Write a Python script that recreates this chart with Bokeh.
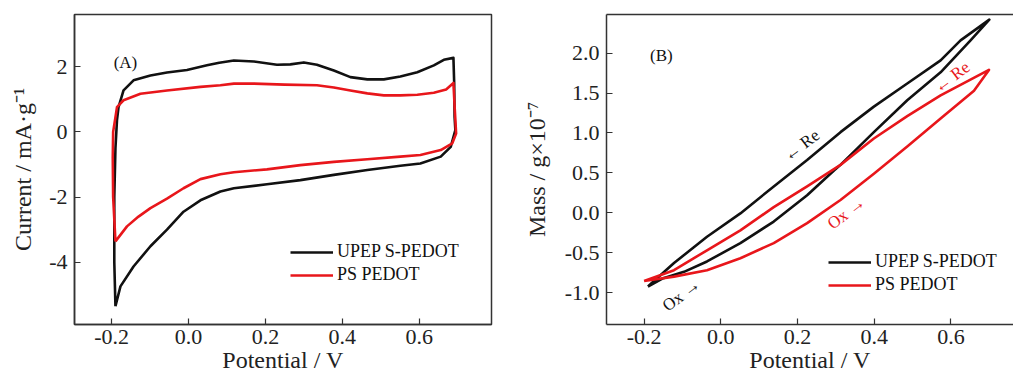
from bokeh.plotting import figure
from bokeh.layouts import row
from bokeh.models import (Range1d, FixedTicker, NumeralTickFormatter, Legend,
                          LegendItem, LinearAxis)
from bokeh.core.properties import value
from bokeh.embed import file_html
from bokeh.resources import INLINE
import math

FONT = "'Liberation Serif', 'Times New Roman', serif"
BLACK = "#111111"
RED = "#e8161b"
AXIS = "#333333"

# ---------------- Panel A: cyclic voltammograms ----------------
a_black_v = [-0.190, -0.193, -0.193, -0.190, -0.186, -0.182, -0.169, -0.143, -0.099, -0.056,
             -0.004, 0.048, 0.080, 0.118, 0.170, 0.230, 0.265, 0.300, 0.334, 0.378,
             0.421, 0.465, 0.508, 0.551, 0.595, 0.638, 0.664, 0.689, 0.691, 0.692,
             0.694, 0.682, 0.656, 0.603, 0.551, 0.465, 0.378, 0.291, 0.204, 0.118,
             0.083, 0.031, -0.013, -0.056, -0.099, -0.143, -0.177, -0.190]
a_black_i = [-5.35, -4.0, -2.0, -0.5, 0.36, 0.76, 1.27, 1.58, 1.73, 1.82,
             1.90, 2.04, 2.12, 2.19, 2.16, 2.06, 2.07, 2.13, 2.06, 1.88,
             1.68, 1.61, 1.61, 1.70, 1.83, 2.04, 2.21, 2.27, 1.48, 0.46,
             0.05, -0.46, -0.76, -0.97, -1.04, -1.17, -1.32, -1.48, -1.61, -1.73,
             -1.83, -2.10, -2.45, -3.00, -3.51, -4.13, -4.74, -5.35]

a_red_v = [-0.190, -0.196, -0.197, -0.196, -0.190, -0.186, -0.169, -0.125, -0.056, 0.031,
           0.083, 0.118, 0.170, 0.250, 0.334, 0.378, 0.421, 0.465, 0.508, 0.551,
           0.595, 0.638, 0.670, 0.689, 0.692, 0.696, 0.686, 0.656, 0.603, 0.551,
           0.465, 0.378, 0.291, 0.204, 0.118, 0.083, 0.031, -0.013, -0.056, -0.099,
           -0.130, -0.160, -0.190]
a_red_i = [-3.36, -2.0, -0.8, 0.0, 0.45, 0.76, 0.97, 1.17, 1.27, 1.38,
           1.43, 1.48, 1.48, 1.45, 1.43, 1.36, 1.27, 1.18, 1.12, 1.12,
           1.14, 1.20, 1.30, 1.50, 0.80, -0.05, -0.35, -0.56, -0.71, -0.76,
           -0.84, -0.92, -1.02, -1.15, -1.24, -1.30, -1.45, -1.73, -2.05, -2.34,
           -2.60, -2.90, -3.36]

# ---------------- Panel B: mass change ----------------
b_black_v = [-0.190, -0.150, -0.096, -0.036, 0.051, 0.138, 0.225, 0.295, 0.312, 0.399,
             0.486, 0.573, 0.651, 0.700, 0.625, 0.573, 0.486, 0.399, 0.312, 0.225,
             0.138, 0.051, -0.036, -0.122, -0.190]
b_black_m = [-0.925, -0.82, -0.74, -0.61, -0.38, -0.11, 0.22, 0.53, 0.60, 1.01,
             1.41, 1.76, 2.16, 2.42, 2.16, 1.91, 1.62, 1.33, 1.01, 0.66,
             0.33, -0.008, -0.30, -0.63, -0.925]

b_red_v = [-0.200, -0.122, -0.036, 0.051, 0.138, 0.225, 0.312, 0.399, 0.486, 0.573,
           0.660, 0.699, 0.573, 0.486, 0.399, 0.312, 0.225, 0.138, 0.051, -0.036,
           -0.122, -0.200]
b_red_m = [-0.854, -0.80, -0.72, -0.57, -0.38, -0.13, 0.16, 0.49, 0.83, 1.18,
           1.53, 1.79, 1.47, 1.21, 0.93, 0.60, 0.33, 0.07, -0.22, -0.47,
           -0.72, -0.854]

series_names = ["UPEP S-PEDOT", "PS PEDOT"]

x_ticks = [-0.2, 0.0, 0.2, 0.4, 0.6]
a_y_ticks = [-4, -2, 0, 2]
b_y_ticks = [-1.0, -0.5, 0.0, 0.5, 1.0, 1.5, 2.0]

# panel B annotations
b_ann_text = ["\u2190 Re", "\u2190 Re", "Ox \u2192", "Ox \u2192"]
b_ann_x = [0.210, 0.602, 0.327, -0.103]
b_ann_y = [0.846, 1.70, -0.004, -1.03]
b_ann_color = [BLACK, RED, RED, BLACK]


def style(p, yticks, yfmt, ylabel, y_std):
    p.xaxis.ticker = FixedTicker(ticks=x_ticks)
    p.xaxis.formatter = NumeralTickFormatter(format="0.0")
    p.yaxis.ticker = FixedTicker(ticks=yticks)
    p.yaxis.formatter = NumeralTickFormatter(format=yfmt)
    p.xaxis.axis_label = "Potential / V"
    p.yaxis.axis_label = ylabel
    for ax in (p.xaxis, p.yaxis):
        ax.axis_line_color = AXIS
        ax.axis_line_width = 1.5
        ax.major_tick_line_color = AXIS
        ax.major_tick_line_width = 1.2
        ax.major_tick_in = 6
        ax.major_tick_out = 0
        ax.minor_tick_line_color = None
        ax.major_label_text_font = FONT
        ax.major_label_text_font_size = "22px"
        ax.major_label_text_color = "#222222"
        ax.axis_label_text_font = FONT
        ax.axis_label_text_font_size = "24px"
        ax.axis_label_text_font_style = "normal"
        ax.axis_label_text_color = "#222222"
    p.xaxis.major_label_standoff = 5
    p.xaxis.axis_label_standoff = 0
    p.yaxis.major_label_standoff = 7
    p.yaxis.axis_label_standoff = y_std
    p.grid.visible = False
    p.background_fill_color = "white"
    p.border_fill_color = "white"


H = 375

# ---------- figure A ----------
pa = figure(width=500, height=H, output_backend="svg", toolbar_location=None,
            x_range=Range1d(-0.2965, 0.788), y_range=Range1d(-5.91, 3.60),
            min_border_left=74, min_border_right=9, min_border_top=14, min_border_bottom=50)
style(pa, a_y_ticks, "0", "Current / mA\u00b7g\u207b\u00b9", 10)
pa.outline_line_color = AXIS
pa.outline_line_width = 1.5
ra1 = pa.line(a_black_v, a_black_i, line_color=BLACK, line_width=2.6, line_join="round")
ra2 = pa.line(a_red_v, a_red_i, line_color=RED, line_width=2.6, line_join="round")
pa.text(x=[-0.164], y=[2.13], text=["(A)"], text_font=value(FONT), text_font_size="17px",
        text_color=BLACK, text_align="center", text_baseline="middle")
leg_a = Legend(items=[LegendItem(label=series_names[0], renderers=[ra1]),
                      LegendItem(label=series_names[1], renderers=[ra2])],
               location=(216, 39), padding=0, margin=0, spacing=2,
               glyph_width=43, glyph_height=20, label_height=20, label_standoff=4,
               label_text_font=FONT, label_text_font_size="18px", label_text_color=BLACK,
               border_line_color=None, background_fill_alpha=0)
pa.add_layout(leg_a)

# ---------- figure B ----------
pb = figure(width=513, height=H, output_backend="svg", toolbar_location=None,
            x_range=Range1d(-0.298, 0.763), y_range=Range1d(-1.40, 2.484),
            min_border_left=106, min_border_right=0, min_border_top=14, min_border_bottom=50)
style(pb, b_y_ticks, "0.0", "Mass / g\u00d710\u207b\u2077", 12)
pb.outline_line_color = None
top_axis = LinearAxis(ticker=FixedTicker(ticks=[]), major_label_text_font_size="0px",
                      major_tick_line_color=None, minor_tick_line_color=None,
                      axis_line_color=AXIS, axis_line_width=1.5, major_label_standoff=0)
pb.add_layout(top_axis, "above")
rb1 = pb.line(b_black_v, b_black_m, line_color=BLACK, line_width=2.6, line_join="round")
rb2 = pb.line(b_red_v, b_red_m, line_color=RED, line_width=2.6, line_join="round")
pb.text(x=[-0.155], y=[1.97], text=["(B)"], text_font=value(FONT), text_font_size="17px",
        text_color=BLACK, text_align="center", text_baseline="middle")
pb.text(x=b_ann_x, y=b_ann_y, text=b_ann_text, text_font=value(FONT), text_font_size="17px",
        text_color=b_ann_color, angle=math.radians(37), text_align="center",
        text_baseline="middle")
leg_b = Legend(items=[LegendItem(label=series_names[0], renderers=[rb1]),
                      LegendItem(label=series_names[1], renderers=[rb2])],
               location=(222, 29), padding=0, margin=0, spacing=2,
               glyph_width=43, glyph_height=20, label_height=20, label_standoff=4,
               label_text_font=FONT, label_text_font_size="18px", label_text_color=BLACK,
               border_line_color=None, background_fill_alpha=0)
pb.add_layout(leg_b)

layout = row(pa, pb, spacing=0)
open("out.html", "w").write(file_html(layout, INLINE))
